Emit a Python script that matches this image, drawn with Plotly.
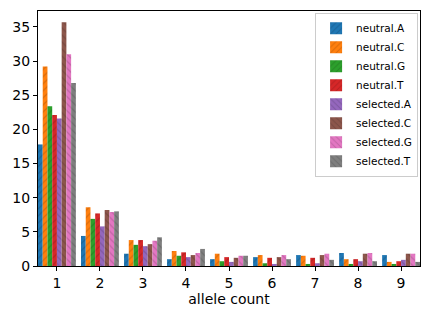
import plotly.graph_objects as go

categories = [1, 2, 3, 4, 5, 6, 7, 8, 9]
series_names = ["neutral.A", "neutral.C", "neutral.G", "neutral.T",
                "selected.A", "selected.C", "selected.G", "selected.T"]
neutral_A = [17.8, 4.4, 1.8, 1.0, 1.0, 1.3, 1.6, 1.9, 1.6]
neutral_C = [29.2, 8.6, 3.8, 2.2, 1.8, 1.6, 1.5, 1.0, 0.6]
neutral_G = [23.4, 6.9, 3.1, 1.5, 0.7, 0.4, 0.3, 0.3, 0.3]
neutral_T = [22.1, 7.7, 3.8, 2.0, 1.3, 1.2, 1.2, 1.0, 0.7]
selected_A = [21.6, 5.8, 2.9, 1.3, 0.6, 0.3, 0.4, 0.7, 0.9]
selected_C = [35.7, 8.2, 3.2, 1.6, 1.2, 1.3, 1.6, 1.8, 1.8]
selected_G = [31.0, 7.9, 3.7, 1.9, 1.5, 1.6, 1.8, 1.9, 1.8]
selected_T = [26.8, 8.0, 4.2, 2.5, 1.5, 1.0, 0.9, 0.7, 0.6]
values = [neutral_A, neutral_C, neutral_G, neutral_T,
          selected_A, selected_C, selected_G, selected_T]

colors = ["#1f77b4", "#ff7f0e", "#2ca02c", "#d62728",
          "#9467bd", "#8c564b", "#e377c2", "#7f7f7f"]
hatch_colors = ["#15537e", "#b2590a", "#1f701f", "#961b1c",
                "#674884", "#623c35", "#9f5388", "#595959"]

fig = go.Figure()
for i, (name, vals) in enumerate(zip(series_names, values)):
    fig.add_trace(go.Bar(
        x=categories, y=vals, name=name,
        marker=dict(color=colors[i], line=dict(width=0),
                    pattern=dict(shape="/" if i < 4 else "\\",
                                 fgcolor=hatch_colors[i], size=5, solidity=0.25)),
    ))

fig.update_layout(
    width=430, height=320,
    margin=dict(l=38, r=10, t=11, b=54),
    paper_bgcolor="white", plot_bgcolor="white",
    barmode="group", bargap=0.12, bargroupgap=0,
    font=dict(family="DejaVu Sans", size=14, color="black"),
    showlegend=True,
    legend=dict(x=0.995, y=0.993, xanchor="right", yanchor="top",
                bgcolor="rgba(255,255,255,0.8)", bordercolor="#cccccc", borderwidth=1,
                font=dict(size=10.5), tracegroupgap=0, itemwidth=30),
    xaxis=dict(range=[0.56, 9.44], tickmode="array", tickvals=categories,
               ticks="outside", ticklen=4, tickcolor="black",
               showline=True, linecolor="black", linewidth=1, mirror=True,
               showgrid=False, zeroline=False,
               title=dict(text="allele count", font=dict(size=14), standoff=4)),
    yaxis=dict(range=[0, 37.34], tickmode="array", tickvals=[0, 5, 10, 15, 20, 25, 30, 35],
               ticks="outside", ticklen=4, tickcolor="black",
               showline=True, linecolor="black", linewidth=1, mirror=True,
               showgrid=False, zeroline=False),
)

fig.write_html("out.html")
